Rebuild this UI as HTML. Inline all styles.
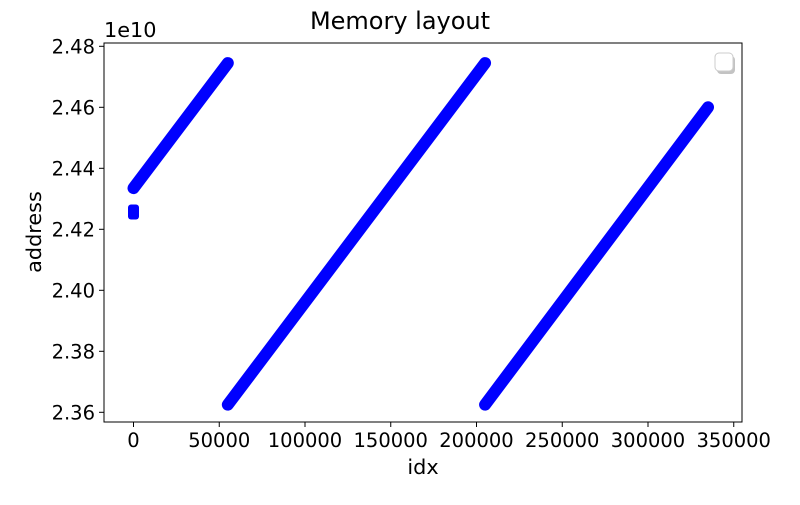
<!DOCTYPE html>
<html><head><meta charset="utf-8"><style>
body{margin:0;background:#fff;}
svg text{font-family:"DejaVu Sans","Liberation Sans",sans-serif;fill:#000;}
</style></head><body>
<svg id="chart" width="800" height="500">
<text x="400" y="29" font-size="24" text-anchor="middle">Memory layout</text>
<rect x="104" y="43" width="638" height="379" fill="none" stroke="#000" stroke-width="1"/>
<g id="marks"></g>
<g id="xticks"></g>
<g id="yticks"></g>
<text x="104" y="37" font-size="20.8">1e10</text>
<text x="423" y="474" font-size="20.8" text-anchor="middle">idx</text>
<text x="41" y="232" font-size="20.8" text-anchor="middle" transform="rotate(-90 41 232)">address</text>
<rect x="717" y="56" width="18" height="18" rx="4" fill="#888" opacity="0.5"/>
<rect x="715" y="53" width="18" height="18" rx="4" fill="#fff" stroke="#ccc"/>
</svg>
<script>
const segStartIdx=[0,55000,205000];
const segEndIdx=[55000,205000,335000];
const segStartAddr=[2.4335,2.3625,2.3625];
const segEndAddr=[2.4745,2.4745,2.4600];
const clusterIdx=[0];
const clusterAddr=[2.4255];
const xTicks=[0,50000,100000,150000,200000,250000,300000,350000];
const yTicks=[2.36,2.38,2.40,2.42,2.44,2.46,2.48];
const NS='http://www.w3.org/2000/svg';
const xs=v=>133.5+v*(85.75/50000);
const ys=v=>412.3-(v-2.36)*(61/0.02);
const marks=document.getElementById('marks');
for(let i=0;i<segStartIdx.length;i++){
  const l=document.createElementNS(NS,'line');
  l.setAttribute('x1',xs(segStartIdx[i]));l.setAttribute('y1',ys(segStartAddr[i]));
  l.setAttribute('x2',xs(segEndIdx[i]));l.setAttribute('y2',ys(segEndAddr[i]));
  l.setAttribute('stroke','#0000ff');l.setAttribute('stroke-width','12');l.setAttribute('stroke-linecap','round');
  
  
  marks.appendChild(l);
}
for(let i=0;i<clusterIdx.length;i++){
  const r=document.createElementNS(NS,'rect');
  r.setAttribute('x',xs(clusterIdx[i])-5.5);r.setAttribute('y',ys(clusterAddr[i])-8);
  r.setAttribute('width',11);r.setAttribute('height',15);r.setAttribute('rx',3);r.setAttribute('fill','#0000ff');
  
  
  marks.appendChild(r);
}
const xg=document.getElementById('xticks');
xTicks.forEach(t=>{
  const x=xs(t);
  const l=document.createElementNS(NS,'line');
  l.setAttribute('x1',x);l.setAttribute('x2',x);l.setAttribute('y1',422);l.setAttribute('y2',427);l.setAttribute('stroke','#000');
  
  
  xg.appendChild(l);
  const tx=document.createElementNS(NS,'text');
  tx.setAttribute('x',x);tx.setAttribute('y',447);tx.setAttribute('font-size','19.5');tx.setAttribute('text-anchor','middle');
  tx.textContent=String(t);
  
  
  xg.appendChild(tx);
});
const yg=document.getElementById('yticks');
yTicks.forEach(t=>{
  const y=ys(t);
  const l=document.createElementNS(NS,'line');
  l.setAttribute('x1',99);l.setAttribute('x2',104);l.setAttribute('y1',y);l.setAttribute('y2',y);l.setAttribute('stroke','#000');
  
  
  yg.appendChild(l);
  const tx=document.createElementNS(NS,'text');
  tx.setAttribute('x',95);tx.setAttribute('y',y+7);tx.setAttribute('font-size','19.5');tx.setAttribute('text-anchor','end');
  tx.textContent=t.toFixed(2);
  
  
  yg.appendChild(tx);
});
</script>
</body></html>
